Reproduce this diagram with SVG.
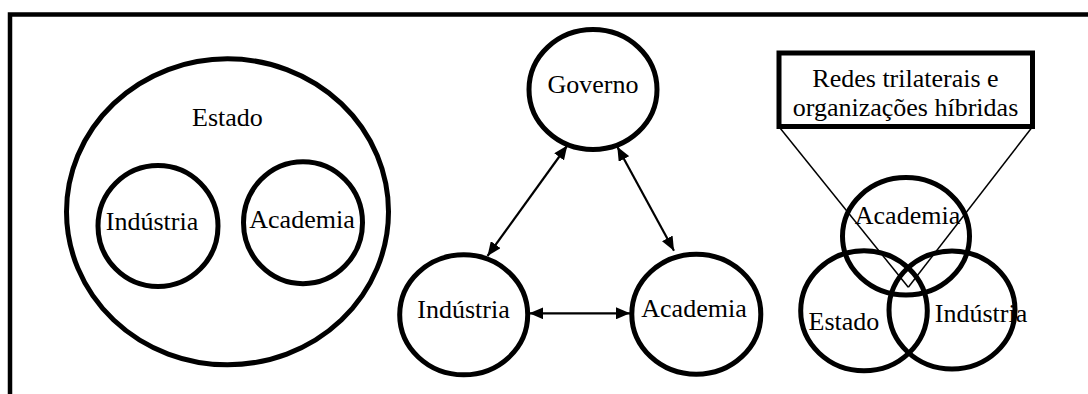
<svg xmlns="http://www.w3.org/2000/svg" width="1088" height="394" viewBox="0 0 1088 394">
<style>
.c{fill:none;stroke:#000;stroke-width:5}
.t{font-family:"Liberation Serif","Times New Roman",serif;font-size:26px;fill:#000;text-anchor:middle}
.a{stroke:#000;stroke-width:2.2;fill:none}
.l{stroke:#000;stroke-width:1.5;fill:none}
</style>
<defs>
<marker id="ah" viewBox="0 0 14 12" refX="14" refY="6" markerWidth="14" markerHeight="12" markerUnits="userSpaceOnUse" orient="auto-start-reverse">
<path d="M0,0 L14,6 L0,12 z" fill="#000"/>
</marker>
</defs>
<rect id="frame" x="10" y="14.5" width="1100" height="400" fill="#fff" stroke="#000" stroke-width="4.5"/>
<g id="estado-left">
<ellipse class="c" cx="227.5" cy="211.8" rx="161" ry="153"/>
<text class="t" x="227.5" y="126">Estado</text>
</g>
<g id="industria-left">
<ellipse class="c" cx="158" cy="226" rx="60" ry="60.5"/>
<text class="t" x="152" y="230">Indústria</text>
</g>
<g id="academia-left">
<ellipse class="c" cx="303" cy="222.7" rx="59.5" ry="61"/>
<text class="t" x="302" y="227.7">Academia</text>
</g>
<g id="governo">
<ellipse class="c" cx="593" cy="89.5" rx="64" ry="60"/>
<text class="t" x="593" y="93.3">Governo</text>
</g>
<g id="industria-mid">
<ellipse class="c" cx="463.7" cy="314.8" rx="64" ry="60"/>
<text class="t" x="463.5" y="318.3">Indústria</text>
</g>
<g id="academia-mid">
<ellipse class="c" cx="696.3" cy="314.2" rx="64.5" ry="60"/>
<text class="t" x="694" y="317.3">Academia</text>
</g>
<g id="connectors">
<line class="a" x1="567.3" y1="145.5" x2="487.5" y2="256" marker-start="url(#ah)" marker-end="url(#ah)"/>
<line class="a" x1="617.3" y1="146.7" x2="674" y2="250.7" marker-start="url(#ah)" marker-end="url(#ah)"/>
<line class="a" x1="529.3" y1="313.3" x2="630" y2="313.3" marker-start="url(#ah)" marker-end="url(#ah)"/>
<line class="l" x1="780" y1="128" x2="908.3" y2="287.3"/>
<line class="l" x1="1031.5" y1="128" x2="908.3" y2="287.3"/>
</g>
<g id="redes-box">
<rect x="779" y="53" width="253.5" height="73.5" fill="#fff" stroke="#000" stroke-width="5"/>
<text class="t" x="905.5" y="87.3">Redes trilaterais e</text>
<text class="t" x="905.5" y="116">organizações híbridas</text>
</g>
<g id="academia-venn">
<ellipse class="c" cx="906" cy="236.3" rx="63.5" ry="58.7"/>
<text class="t" x="907.5" y="224">Academia</text>
</g>
<g id="estado-venn">
<ellipse class="c" cx="864" cy="310.8" rx="63.3" ry="60"/>
<text class="t" x="844" y="330">Estado</text>
</g>
<g id="industria-venn">
<ellipse class="c" cx="952" cy="310" rx="63" ry="59"/>
<text class="t" x="981" y="321.7">Indústria</text>
</g>
</svg>
